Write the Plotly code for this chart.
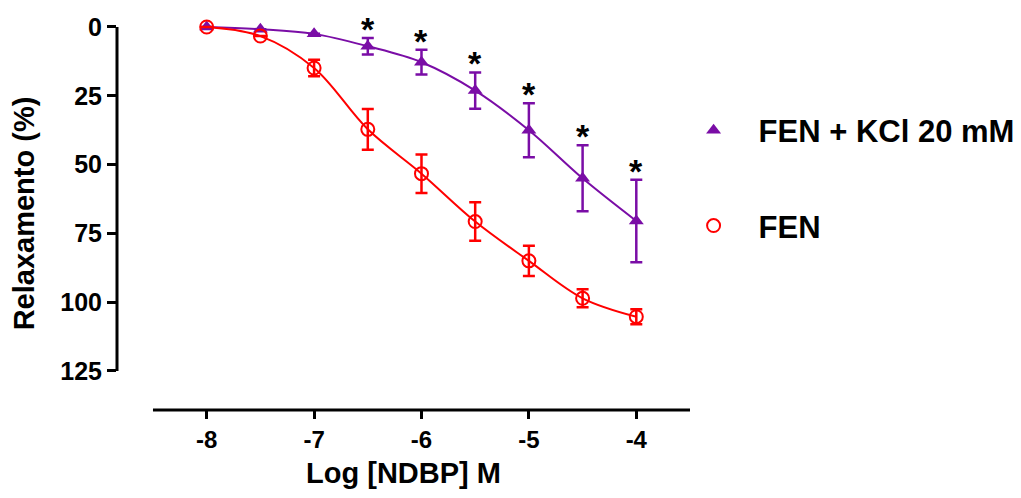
import plotly.graph_objects as go

log_conc = [-8, -7.5, -7, -6.5, -6, -5.5, -5, -4.5, -4]

fen_mean = [0, 3.3, 14.9, 37.2, 53.3, 70.7, 85.0, 98.6, 105.3]
fen_err = [0, 0, 3.0, 7.4, 7.0, 7.0, 5.5, 3.3, 2.7]

kcl_mean = [0, 0.8, 2.5, 7.0, 12.8, 23.1, 37.5, 55.0, 70.5]
kcl_err = [0, 0, 0, 3.0, 4.5, 6.6, 9.8, 12.0, 15.0]

sig_x = [-6.5, -6, -5.5, -5, -4.5, -4]

y_ticks = [0, 25, 50, 75, 100, 125]
x_ticks = [-8, -7, -6, -5, -4]

PURPLE = "#7A0DA6"
RED = "#FF0000"
FONT = "Liberation Sans"

fig = go.Figure()

# curves (no legend)
fig.add_trace(go.Scatter(
    x=log_conc, y=kcl_mean, mode="lines", showlegend=False, hoverinfo="skip",
    line=dict(color=PURPLE, width=2, shape="spline", smoothing=1),
))
fig.add_trace(go.Scatter(
    x=log_conc, y=fen_mean, mode="lines", showlegend=False, hoverinfo="skip",
    line=dict(color=RED, width=2, shape="spline", smoothing=1),
))

# markers + error bars (legend)
fig.add_trace(go.Scatter(
    x=log_conc, y=kcl_mean, mode="markers", name="<b>FEN + KCl 20 mM</b>",
    legendgroup="a",
    marker=dict(symbol="triangle-up", size=13, color=PURPLE),
    error_y=dict(type="data", array=kcl_err, visible=True, color=PURPLE, thickness=2.5, width=6),
))
fig.add_trace(go.Scatter(
    x=log_conc, y=fen_mean, mode="markers", name="<b>FEN</b>",
    legendgroup="b",
    marker=dict(symbol="circle-open", size=13, color=RED, line=dict(width=2, color=RED)),
    error_y=dict(type="data", array=fen_err, visible=True, color=RED, thickness=2.5, width=6),
))

# significance asterisks above purple error bars
for xv in sig_x:
    i = log_conc.index(xv)
    fig.add_annotation(x=xv, y=kcl_mean[i] - kcl_err[i], text="<b>*</b>", showarrow=False,
                       yanchor="bottom", yshift=-12, font=dict(family=FONT, size=34, color="black"))

# detached axis lines (Prism style)
fig.add_shape(type="line", xref="x", yref="paper", x0=-8.5, x1=-3.5, y0=0, y1=0,
              line=dict(color="black", width=3))
fig.add_shape(type="line", xref="paper", yref="y", x0=0, x1=0, y0=0, y1=125,
              line=dict(color="black", width=3))

fig.update_layout(
    width=1021, height=498,
    margin=dict(l=109, r=339, t=9, b=96, autoexpand=False),
    plot_bgcolor="white", paper_bgcolor="white",
    font=dict(family=FONT, color="black"),
    showlegend=True,
    legend=dict(xref="container", yref="container", x=0.647, y=0.808, xanchor="left", yanchor="top",
                font=dict(family=FONT, size=31, color="black"),
                itemwidth=80, tracegroupgap=52, traceorder="grouped",
                bgcolor="rgba(0,0,0,0)"),
    xaxis=dict(range=[-8.835, -3.5], tickvals=x_ticks, ticktext=[f"<b>{v}</b>" for v in x_ticks],
               showline=False, showgrid=False, zeroline=False, automargin=False,
               ticks="outside", ticklen=8, tickwidth=3, tickcolor="black",
               tickfont=dict(family=FONT, size=24, color="black"),
               title=dict(text="<b>Log [NDBP] M</b>", font=dict(family=FONT, size=29, color="black"), standoff=10)),
    yaxis=dict(range=[139.2, -3.63], tickvals=y_ticks, ticktext=[f"<b>{v}</b>" for v in y_ticks],
               showline=False, showgrid=False, zeroline=False, automargin=False,
               ticks="outside", ticklen=9, tickwidth=3, tickcolor="black",
               tickfont=dict(family=FONT, size=25, color="black"),
               title=dict(text="<b>Relaxamento (%)</b>", font=dict(family=FONT, size=29, color="black"), standoff=20)),
)

fig.write_html("out.html")
